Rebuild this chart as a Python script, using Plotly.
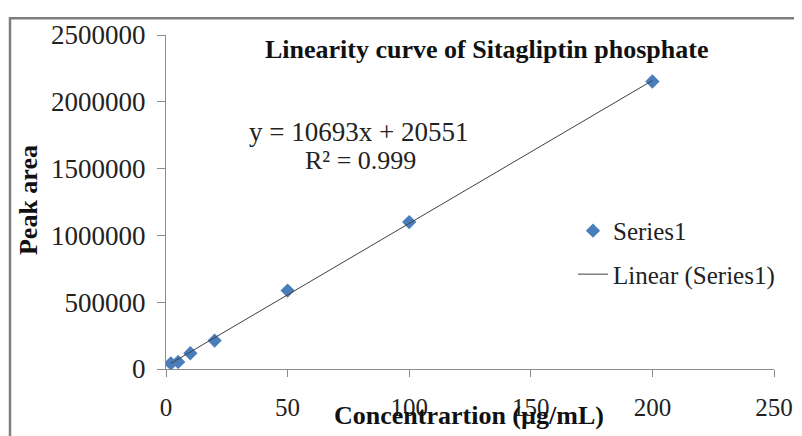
import plotly.graph_objects as go

# Data
conc = [2, 5, 10, 20, 50, 100, 200]
peak_area = [42000, 53000, 118000, 213000, 587000, 1100000, 2152000]
slope = 10693
intercept = 20551
r2_text = "0.999"
x_ticks = [0, 50, 100, 150, 200, 250]
y_ticks = [0, 500000, 1000000, 1500000, 2000000, 2500000]

FONT = "Liberation Serif"

fit_x = [min(conc), max(conc)]
fit_y = [slope * v + intercept for v in fit_x]

fig = go.Figure()
fig.add_trace(go.Scatter(
    x=conc, y=peak_area, mode="markers", name="Series1",
    legendgroup="a",
    marker=dict(symbol="diamond", size=11, color="#4A7EBB",
                line=dict(width=0)),
))
fig.add_trace(go.Scatter(
    x=fit_x, y=fit_y, mode="lines", name="Linear (Series1)",
    legendgroup="b",
    line=dict(color="#404040", width=1),
))

# The page body has an 8px margin; positions below are given in screen pixels
OFF = 8
W, H = 802, 436
SL, SR, ST, SB = 166, 774, 29, 369          # plot area in screen pixels
L, T = SL - OFF, ST - OFF
R, B = W - (SR - OFF), H - (SB - OFF)
pw, ph = SR - SL, SB - ST

def px(xs):
    return (xs - SL) / pw

def py(ys):
    return (SB - ys) / ph

fig.update_layout(
    width=W, height=H,
    margin=dict(l=L, r=R, t=T, b=B),
    paper_bgcolor="white", plot_bgcolor="white",
    font=dict(family=FONT, size=25, color="#222"),
    showlegend=True,
    legend=dict(x=px(573), y=py(205), xanchor="left", yanchor="top",
                traceorder="grouped", tracegroupgap=8,
                font=dict(family=FONT, size=25, color="#222"),
                bgcolor="rgba(0,0,0,0)"),
    xaxis=dict(range=[0, 250], tickvals=x_ticks, ticks="outside", ticklen=7,
               tickcolor="#8c8c8c", showline=True, linecolor="#8c8c8c",
               linewidth=1, showgrid=False, zeroline=False,
               tickfont=dict(family=FONT, size=25, color="#222"),
               ticklabelstandoff=9),
    yaxis=dict(range=[0, 2500000], tickvals=y_ticks, ticks="outside", ticklen=8,
               tickcolor="#8c8c8c", showline=True, linecolor="#8c8c8c",
               linewidth=1, showgrid=False, zeroline=False,
               tickformat="d",
               tickfont=dict(family=FONT, size=27, color="#222"),
               ticklabelstandoff=6),
    shapes=[dict(type="rect", xref="paper", yref="paper",
                 x0=px(10), x1=px(812), y0=py(446), y1=py(12),
                 line=dict(color="#7f7f7f", width=2.5), fillcolor="rgba(0,0,0,0)",
                 layer="below")],
    annotations=[
        dict(text="<b>Linearity curve of Sitagliptin phosphate</b>", xref="paper", yref="paper",
             x=px(486), y=py(44), xanchor="center", yanchor="middle", showarrow=False,
             font=dict(family=FONT, size=26, color="#111")),
        dict(text=f"y = {slope}x + {intercept}", xref="paper", yref="paper",
             x=px(358), y=py(128), xanchor="center", yanchor="middle", showarrow=False,
             font=dict(family=FONT, size=27, color="#222")),
        dict(text=f"R² = {r2_text}", xref="paper", yref="paper",
             x=px(360), y=py(157), xanchor="center", yanchor="middle", showarrow=False,
             font=dict(family=FONT, size=26, color="#222")),
        dict(text="<b>Concentrartion (µg/mL)</b>", xref="paper", yref="paper",
             x=px(469), y=py(416), xanchor="center", yanchor="middle", showarrow=False,
             font=dict(family=FONT, size=26, color="#111")),
        dict(text="<b>Peak area</b>", xref="paper", yref="paper", textangle=-90,
             x=px(28), y=py(197), xanchor="center", yanchor="middle", showarrow=False,
             font=dict(family=FONT, size=26, color="#111")),
    ],
)

fig.write_html("out.html")
